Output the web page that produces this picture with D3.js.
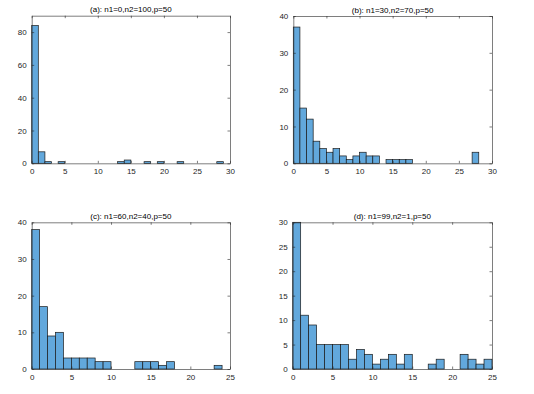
<!DOCTYPE html>
<html>
<head>
<meta charset="utf-8">
<script src="https://cdn.jsdelivr.net/npm/d3@7"></script>
<style>
  body { margin: 0; background: #fff; }
  text { font-family: "Liberation Sans", Arial, sans-serif; }
</style>
</head>
<body>
<div id="chart"></div>
<script>
// counts per unit-width bin, starting at 0
const countsA = [84,7,1,0,1, 0,0,0,0,0, 0,0,0,1,2, 0,0,1,0,1, 0,0,1,0,0, 0,0,0,1];
const countsB = [37,15,12,6,4, 3,4,2,1,2, 3,2,2,0,1, 1,1,1,0,0, 0,0,0,0,0, 0,0,3];
const countsC = [38,17,9,10,3, 3,3,3,2,2, 0,0,0,2,2, 2,1,2,0,0, 0,0,0,1];
const countsD = [30,11,9,5,5, 5,5,2,4,3, 1,2,3,1,3, 0,0,1,2,0, 0,3,2,1,2];

const titles = ['(a): n1=0,n2=100,p=50', '(b): n1=30,n2=70,p=50',
                '(c): n1=60,n2=40,p=50', '(d): n1=99,n2=1,p=50'];
const xTicksAB = [0,5,10,15,20,25,30];
const xTicksCD = [0,5,10,15,20,25];
const yTicksA = [0,20,40,60,80];
const yTicksBC = [0,10,20,30,40];
const yTicksD = [0,5,10,15,20,25,30];
const yMax = [90,40,40,30];

const W = 534, H = 394;
const svg = d3.select('#chart').append('svg')
  .attr('width', W).attr('height', H);

// panel boxes (left, right, top, bottom)
const boxes = [
  [31.7, 230, 15.7, 163.3],
  [293.3, 492, 16, 163.3],
  [31.7, 230, 222.3, 369],
  [292.7, 492, 222.3, 369]
];

const panels = [
  { counts: countsA, xt: xTicksAB, yt: yTicksA },
  { counts: countsB, xt: xTicksAB, yt: yTicksBC },
  { counts: countsC, xt: xTicksCD, yt: yTicksBC },
  { counts: countsD, xt: xTicksCD, yt: yTicksD }
];

const axisCol = '#262626';

panels.forEach((p, i) => {
  const [l, r, t, b] = boxes[i];
  const x = d3.scaleLinear().domain([0, d3.max(p.xt)]).range([l, r]);
  const y = d3.scaleLinear().domain([0, yMax[i]]).range([b, t]);
  const g = svg.append('g');

  // bars (empty bins too, they show as a line on the base)
  g.append('g').selectAll('rect').data(p.counts).join('rect')
    .attr('x', (d, j) => x(j))
    .attr('width', (d, j) => x(j + 1) - x(j))
    .attr('y', d => y(d))
    .attr('height', d => y(0) - y(d))
    .attr('fill', '#62a8dc')
    .attr('stroke', '#1a1a1a')
    .attr('stroke-width', 0.7);

  const fmt = d3.format('d');
  const bottom = g.append('g').attr('transform', `translate(0,${b})`)
    .call(d3.axisBottom(x).tickValues(p.xt).tickFormat(fmt).tickSizeInner(-2.5).tickSizeOuter(0).tickPadding(5));
  const left = g.append('g').attr('transform', `translate(${l},0)`)
    .call(d3.axisLeft(y).tickValues(p.yt).tickFormat(fmt).tickSizeInner(-2.5).tickSizeOuter(0).tickPadding(5));
  const top = g.append('g').attr('transform', `translate(0,${t})`)
    .call(d3.axisTop(x).tickValues(p.xt).tickFormat('').tickSizeInner(-2.5).tickSizeOuter(0));
  const right = g.append('g').attr('transform', `translate(${r},0)`)
    .call(d3.axisRight(y).tickValues(p.yt).tickFormat('').tickSizeInner(-2.5).tickSizeOuter(0));

  [bottom, left, top, right].forEach(a => {
    a.select('.domain').attr('stroke', axisCol).attr('stroke-width', 0.6);
    a.selectAll('.tick line').attr('stroke', axisCol).attr('stroke-width', 0.6);
    a.selectAll('.tick text').attr('fill', axisCol).style('font-size', '8px');
  });

  g.append('text')
    .attr('x', (l + r) / 2).attr('y', t - 3.5)
    .attr('text-anchor', 'middle')
    .attr('fill', '#000')
    .style('font-size', '8px')
    .text(titles[i]);
});
</script>
</body>
</html>
